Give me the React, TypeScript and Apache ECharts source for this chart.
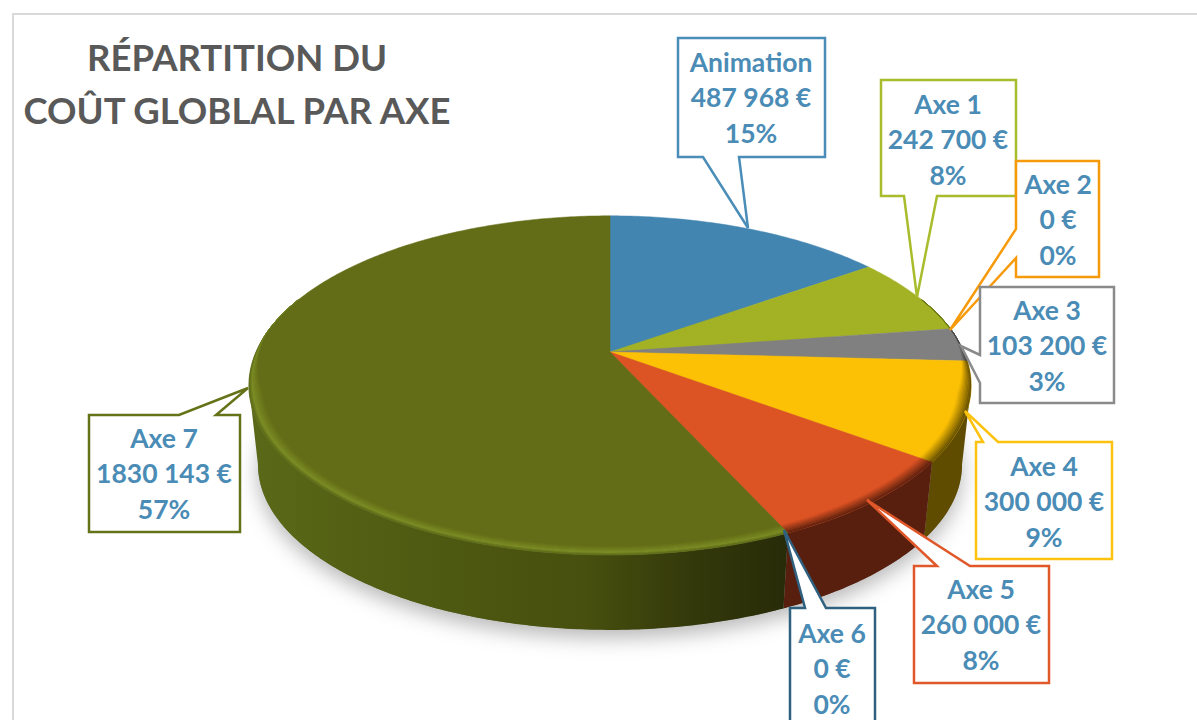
import React, { useEffect, useRef } from "react";
import * as echarts from "echarts";

const categories = ["Animation", "Axe 1", "Axe 2", "Axe 3", "Axe 4", "Axe 5", "Axe 6", "Axe 7"];
const amounts = [487968, 242700, 0, 103200, 300000, 260000, 0, 1830143];
const topColors = ["#4185b0", "#a2b224", "#f79a0a", "#808080", "#fcc005", "#dd5424", "#2c5f7f", "#636d17"];
const sideColors = ["#25506b", "#5f6a12", "#8a5604", "#3f3f3f", "#5f4c00", "#591f0e", "#1a3a4e", "#4c5611"];
const borderColors = ["#4a8db8", "#a9bc2c", "#f79a0a", "#8a8a8a", "#fcc20e", "#e0582a", "#2f607f", "#667218"];
const titleLines = ["RÉPARTITION DU", "COÛT GLOBLAL PAR AXE"];

// callout geometry: box [left, top, right, bottom], pointer side, base a, base b, tip [x, y], text centre [x, y]
const callouts: any[] = [
  { box: [678, 38, 825, 157], side: "bottom", a: 703, b: 739, tip: [748, 228], text: [751, 97] },
  { box: [881, 80, 1016, 196], side: "bottom", a: 904, b: 937, tip: [917, 297], text: [948, 139] },
  { box: [1016, 161, 1099, 277], side: "left", a: 229, b: 258, tip: [950, 330], text: [1058, 219] },
  { box: [980, 287, 1114, 403], side: "left", a: 355, b: 383, tip: [961, 346], text: [1047, 345] },
  { box: [976, 442, 1112, 559], side: "top", a: 983, b: 998, tip: [965, 411], text: [1044, 501] },
  { box: [914, 566, 1049, 683], side: "top", a: 937, b: 970, tip: [867, 500], text: [981, 624] },
  { box: [790, 608, 875, 730], side: "top", a: 805, b: 826, tip: [784, 530], text: [832, 668] },
  { box: [89, 415, 240, 532], side: "top", a: 179, b: 216, tip: [248, 388], text: [164, 473] },
];

const total = amounts.reduce((s, v) => s + v, 0);
const cum: number[] = [0];
amounts.forEach((v, i) => cum.push(cum[i] + v));
const angleOf = (x: number) => (x / total) * Math.PI * 2;

const CX = 610, CY = 352, A = 354, B = 163, K = 0.197;
const BOTTOM_S = 0.975, BOTTOM_H = 80;
const BEVEL = 0.036, BEVEL_STEPS = 9;

function project(theta: number, r: number, bottom = false): number[] {
  const u = r * Math.sin(theta), v = r * Math.cos(theta);
  const w = 1 + K * v;
  const s = bottom ? BOTTOM_S : 1;
  const h = bottom ? BOTTOM_H : 0;
  return [CX + (A * u * s) / w, CY + h - (B * v * s) / w];
}
function arc(t0: number, t1: number, r: number, bottom = false): number[][] {
  const n = Math.max(2, Math.ceil(Math.abs(t1 - t0) / 0.012));
  const out: number[][] = [];
  for (let i = 0; i <= n; i++) out.push(project(t0 + ((t1 - t0) * i) / n, r, bottom));
  return out;
}
function hex(c: string): number[] {
  return [1, 3, 5].map((i) => parseInt(c.slice(i, i + 2), 16));
}
function mix(a: string, b: string, t: number): string {
  const x = hex(a), y = hex(b);
  return `rgb(${x.map((q, i) => Math.round(q + (y[i] - q) * t)).join(",")})`;
}
function fmt(v: number): string {
  if (v < 1000) return `${v} €`;
  return `${Math.floor(v / 1000)} ${String(v % 1000).padStart(3, "0")} €`;
}
// the rim's silhouette turns where cos(theta) = -K
const VIS0 = Math.acos(-K), VIS1 = Math.PI * 2 - Math.acos(-K);

const sideFill = (i: number): any =>
  i === 7
    ? new echarts.graphic.LinearGradient(0, 0, 1, 0, [
        { offset: 0, color: "#5a6918" },
        { offset: 0.35, color: "#4e5911" },
        { offset: 0.62, color: "#47500e" },
        { offset: 0.82, color: "#34390b" },
        { offset: 1, color: "#272b08" },
      ])
    : sideColors[i];

function calloutPoints(c: any): number[][] {
  const [l, t, r, b] = c.box;
  if (c.side === "bottom")
    return [[l, t], [r, t], [r, b], [c.b, b], c.tip, [c.a, b], [l, b]];
  if (c.side === "top")
    return [[l, t], [c.a, t], c.tip, [c.b, t], [r, t], [r, b], [l, b]];
  return [[l, t], [r, t], [r, b], [l, b], [l, c.b], c.tip, [l, c.a]];
}

export default function App() {
  const ref = useRef<HTMLDivElement>(null);
  useEffect(() => {
    document.body.style.margin = "0";
    const chart = echarts.init(ref.current!, null, { renderer: "svg" });
    const base = { type: "custom", coordinateSystem: "none", silent: true, data: amounts };
    chart.setOption({
      animation: false,
      backgroundColor: "#ffffff",
      title: {
        text: titleLines.join("\n"),
        left: 232,
        top: 25,
        textAlign: "center",
        textStyle: { fontFamily: "Lato", fontWeight: "bold", fontSize: 36.5, lineHeight: 53, color: "#595959" },
      },
      graphic: [
        { type: "rect", shape: { x: 13, y: 14, width: 1300, height: 800 }, style: { fill: "none", stroke: "#d9d9d9", lineWidth: 2 }, silent: true },
      ],
      series: [
        {
          ...base,
          z: 2,
          renderItem: (p: any) =>
            p.dataIndex === 0
              ? {
                  type: "polygon",
                  shape: { points: arc(0, Math.PI * 2, 1, true) },
                  style: { fill: "#999", shadowBlur: 20, shadowOffsetY: 8, shadowColor: "rgba(0,0,0,0.28)" },
                }
              : null,
        },
        {
          ...base,
          z: 3,
          renderItem: (p: any) => {
            const i = p.dataIndex;
            const t0 = Math.max(angleOf(cum[i]), VIS0), t1 = Math.min(angleOf(cum[i + 1]), VIS1);
            if (amounts[i] === 0 || t1 <= t0) return null;
            const pts = [...arc(t0, t1, 1), ...arc(t1, t0, 1, true)];
            return { type: "polygon", shape: { points: pts }, style: { fill: sideFill(i), stroke: null } };
          },
        },
        {
          ...base,
          z: 4,
          renderItem: (p: any) => {
            const i = p.dataIndex;
            if (amounts[i] === 0) return null;
            const pts = [[CX, CY], ...arc(angleOf(cum[i]), angleOf(cum[i + 1]), 1)];
            return { type: "polygon", shape: { points: pts }, style: { fill: topColors[i], stroke: topColors[i], lineWidth: 0.5 } };
          },
        },
        {
          ...base,
          z: 5,
          renderItem: (p: any) => {
            const i = p.dataIndex;
            const a0 = Math.max(angleOf(cum[i]), (70 * Math.PI) / 180);
            const a1 = Math.min(angleOf(cum[i + 1]), (290 * Math.PI) / 180);
            if (amounts[i] === 0 || a1 <= a0) return null;
            const n = Math.ceil((a1 - a0) / 0.02);
            const fade = (th: number) => Math.max(0, Math.min(1, (0.1 - Math.cos(th)) / 0.35));
            const children: any[] = [];
            for (let s = 0; s < BEVEL_STEPS; s++) {
              const q0 = s / BEVEL_STEPS, q1 = (s + 1) / BEVEL_STEPS;
              const outer: number[][] = [], inner: number[][] = [];
              for (let j = 0; j <= n; j++) {
                const th = a0 + ((a1 - a0) * j) / n;
                const f = fade(th) * BEVEL;
                inner.push(project(th, 1 - f * (1 - q0)));
                outer.push(project(th, 1 - f * (1 - q1)));
              }
              const tm = (q0 + q1) / 2;
              let col: string;
              if (i === 7) {
                col = tm < 0.72 ? mix(topColors[i], "#7d8e26", tm / 0.72) : mix("#7d8e26", "#5a6918", (tm - 0.72) / 0.28);
              } else {
                col = mix(topColors[i], sideColors[i], tm);
              }
              children.push({
                type: "polygon",
                shape: { points: [...inner, ...outer.reverse()] },
                style: { fill: col, stroke: col, lineWidth: 0.4 },
              });
            }
            return { type: "group", children };
          },
        },
        {
          ...base,
          z: 6,
          renderItem: (p: any) => {
            const i = p.dataIndex;
            const c = callouts[i];
            const pct = Math.round((amounts[i] / total) * 100);
            return {
              type: "group",
              children: [
                {
                  type: "polygon",
                  shape: { points: calloutPoints(c) },
                  style: { fill: "#ffffff", stroke: borderColors[i], lineWidth: 2.5 },
                },
                {
                  type: "text",
                  style: {
                    x: c.text[0],
                    y: c.text[1],
                    text: `${categories[i]}\n${fmt(amounts[i])}\n${pct}%`,
                    fill: "#4a8cb5",
                    font: "bold 26.5px Lato",
                    lineHeight: 35.5,
                    align: "center",
                    verticalAlign: "middle",
                  },
                },
              ],
            };
          },
        },
      ],
    });
    return () => chart.dispose();
  }, []);
  return <div ref={ref} style={{ width: 1197, height: 720 }} />;
}
